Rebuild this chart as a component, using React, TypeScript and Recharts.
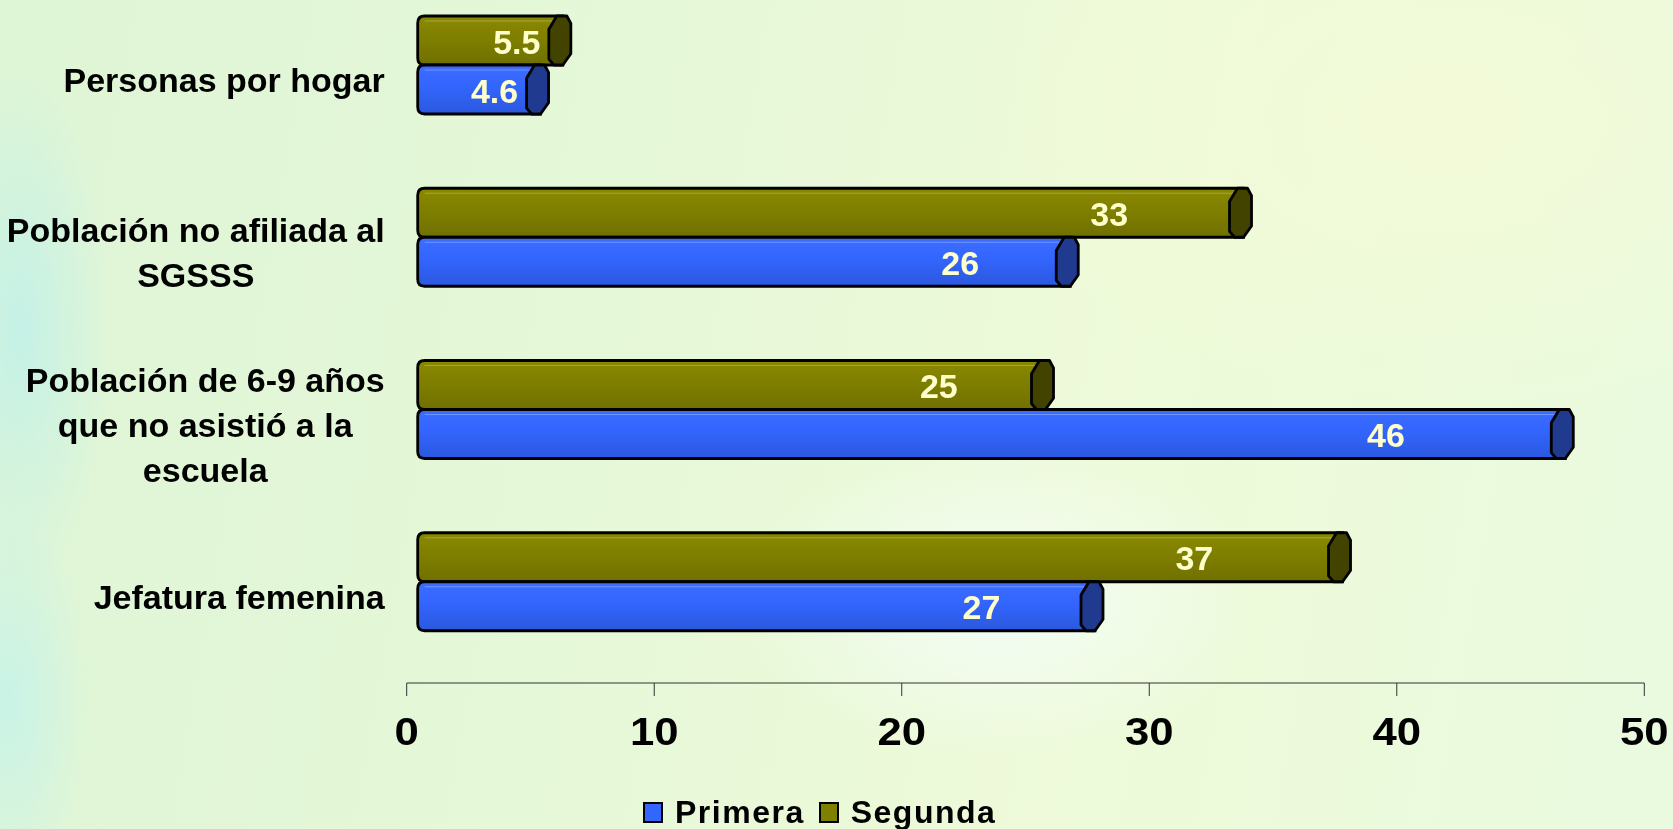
import { BarChart, Bar, XAxis, YAxis, LabelList } from "recharts";

const categories = [
  "Personas por hogar",
  "Población no afiliada al SGSSS",
  "Población de 6-9 años que no asistió a la escuela",
  "Jefatura femenina",
];
const primera = [4.6, 26, 46, 27];
const segunda = [5.5, 33, 25, 37];
const xTicks = [0, 10, 20, 30, 40, 50];

const data = categories.map((name, i) => ({ name, primera: primera[i], segunda: segunda[i] }));

const FONT = '"Liberation Sans", Arial, sans-serif';
const DEPTH_X = 11;
const DEPTH_Y = -15;
const CAP_W = 28;

let ctx: CanvasRenderingContext2D | null = null;
function measure(text: string, font: string) {
  if (!ctx) ctx = document.createElement("canvas").getContext("2d");
  if (!ctx) return text.length * 17;
  ctx.font = font;
  return ctx.measureText(text).width;
}

function wrap(text: string, font: string, max: number) {
  const words = text.split(" ");
  const lines: string[] = [];
  let cur = "";
  for (const w of words) {
    const next = cur ? cur + " " + w : w;
    if (cur && measure(next, font) > max) {
      lines.push(cur);
      cur = w;
    } else cur = next;
  }
  if (cur) lines.push(cur);
  return lines;
}

const CategoryTick = (props: any) => {
  const { x, y, payload } = props;
  const font = `bold 34px ${FONT}`;
  const lines = wrap(payload.value, font, 395);
  const maxW = Math.max(...lines.map((l) => measure(l, font)));
  const cx = x - maxW / 2;
  const lh = 45;
  const y0 = y - ((lines.length - 1) * lh) / 2;
  return (
    <text x={cx} y={y0} textAnchor="middle" dominantBaseline="central" style={{ font }} fill="#000">
      {lines.map((l, i) => (
        <tspan key={i} x={cx} y={y0 + i * lh}>
          {l}
        </tspan>
      ))}
    </text>
  );
};

const NumberTick = (props: any) => {
  const { x, y, payload } = props;
  const cy = y + 36;
  return (
    <text
      x={0}
      y={0}
      transform={`translate(${x},${cy}) scale(1.15,1)`}
      textAnchor="middle"
      dominantBaseline="central"
      fill="#000"
      style={{ font: `bold 38px ${FONT}` }}
    >
      {payload.value}
    </text>
  );
};

const cylinder = (grad: string, cap: string, hi: string) => (props: any) => {
  const { x, y, width, height } = props;
  const S = x + DEPTH_X;
  const E = x + width + CAP_W;
  const T = y + DEPTH_Y;
  const h = height;
  const r = 7;
  const body = `M${S + r},${T} H${E - 8} V${T + h} H${S + r} Q${S},${T + h} ${S},${T + h - r} V${T + r} Q${S},${T} ${S + r},${T} Z`;
  const capPts = [
    [E - 22, T + 0.27 * h],
    [E - 14, T],
    [E - 4, T],
    [E, T + 0.15 * h],
    [E, T + 0.77 * h],
    [E - 8, T + h],
    [E - 17, T + h],
    [E - 22, T + 0.88 * h],
  ]
    .map((p) => p.join(","))
    .join(" ");
  return (
    <g>
      <path d={body} fill={`url(#${grad})`} stroke="#000" strokeWidth={2.8} />
      <line x1={S + r} x2={E - 15} y1={T + 5} y2={T + 5} stroke={hi} strokeWidth={1.2} />
      <polygon points={capPts} fill={cap} stroke="#000" strokeWidth={2.8} strokeLinejoin="round" />
    </g>
  );
};

const ValueLabel = (props: any) => {
  const { x, y, width, height, value } = props;
  const cx = x + Math.min(width * 0.86, width - 26);
  return (
    <text
      x={cx}
      y={y + DEPTH_Y + height / 2 + 1}
      textAnchor="middle"
      dominantBaseline="central"
      fill="#ffffcc"
      style={{ font: `bold 34px ${FONT}` }}
    >
      {value}
    </text>
  );
};

export default function App() {
  return (
    <>
      <div
        style={{
          position: "fixed",
          inset: 0,
          background:
            "radial-gradient(ellipse 90px 260px at 20px 330px, rgba(190,240,235,0.8), rgba(190,240,235,0)), radial-gradient(ellipse 80px 200px at 10px 700px, rgba(195,242,235,0.8), rgba(195,242,235,0)), radial-gradient(ellipse 260px 160px at 1000px 600px, rgba(245,253,250,0.9), rgba(245,253,250,0)), radial-gradient(ellipse 500px 300px at 1450px 120px, rgba(245,250,215,0.8), rgba(245,250,215,0)), linear-gradient(100deg, #def5d6 0%, #e5f8d8 35%, #eefad9 65%, #eafadf 100%)",
        }}
      />
      <svg width={0} height={0} style={{ position: "absolute" }}>
        <defs>
          <linearGradient id="gBlue" x1="0" y1="0" x2="0" y2="1">
            <stop offset="0%" stopColor="#3d6dff" />
            <stop offset="40%" stopColor="#3366ff" />
            <stop offset="100%" stopColor="#2b58de" />
          </linearGradient>
          <linearGradient id="gOlive" x1="0" y1="0" x2="0" y2="1">
            <stop offset="0%" stopColor="#8a8a00" />
            <stop offset="40%" stopColor="#808000" />
            <stop offset="100%" stopColor="#707000" />
          </linearGradient>
        </defs>
      </svg>
      <div style={{ position: "absolute", left: 0, top: -6, width: 1673, height: 835 }}>
        <BarChart
          width={1673}
          height={835}
          data={data}
          layout="vertical"
          barCategoryGap={37}
          barGap={0}
          margin={{ top: 0, right: 28.7, bottom: 76, left: 0 }}
        >
          <XAxis
            type="number"
            domain={[0, 50]}
            ticks={xTicks}
            interval={0}
            height={70}
            stroke="#333"
            tickSize={13}
            tickMargin={0}
            tick={<NumberTick />}
          />
          <YAxis
            type="category"
            dataKey="name"
            width={406.7}
            axisLine={false}
            tickLine={false}
            tickSize={0}
            tickMargin={22}
            interval={0}
            tick={<CategoryTick />}
          />
          <Bar
            dataKey="segunda"
            name="Segunda"
            fill="#808000"
            isAnimationActive={false}
            shape={cylinder("gOlive", "#434300", "#a6a640")}
          >
            <LabelList dataKey="segunda" content={<ValueLabel />} />
          </Bar>
          <Bar
            dataKey="primera"
            name="Primera"
            fill="#3366ff"
            isAnimationActive={false}
            shape={cylinder("gBlue", "#1f3a8f", "#6f96ff")}
          >
            <LabelList dataKey="primera" content={<ValueLabel />} />
          </Bar>
        </BarChart>
      </div>
      <div
        style={{
          position: "absolute",
          left: 643,
          top: 795,
          display: "flex",
          alignItems: "center",
          fontFamily: FONT,
          fontWeight: "bold",
          fontSize: 32,
          letterSpacing: 1.5,
          color: "#000",
          lineHeight: "34px",
        }}
      >
        {[
          { label: "Primera", color: "#3366ff" },
          { label: "Segunda", color: "#808000" },
        ].map((it, i) => (
          <div key={it.label} style={{ display: "flex", alignItems: "center", marginLeft: i ? 14 : 0 }}>
            <span
              style={{
                display: "inline-block",
                width: 16,
                height: 17,
                background: it.color,
                border: "2px solid #000",
                marginRight: 12,
              }}
            />
            <span>{it.label}</span>
          </div>
        ))}
      </div>
    </>
  );
}
